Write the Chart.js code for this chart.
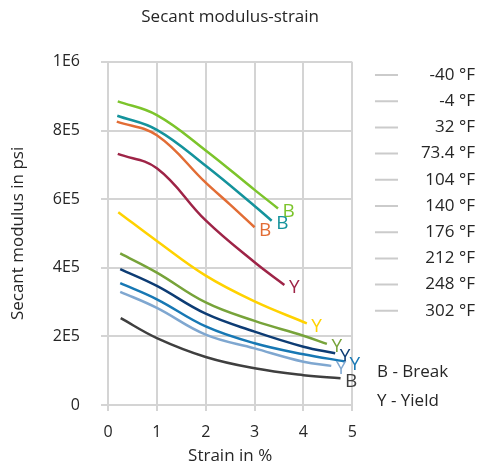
<!DOCTYPE html>
<html>
<head>
<meta charset="utf-8">
<script src="https://cdn.jsdelivr.net/npm/chart.js@4.4.1/dist/chart.umd.min.js"></script>
<style>
  html, body { margin: 0; padding: 0; background: #fff; }
</style>
</head>
<body>
<canvas id="chart" width="481" height="469"></canvas>
<script>
// Temperaturas (una curva por temperatura)
const temps = ['-40 °F', '-4 °F', '32 °F', '73.4 °F', '104 °F', '140 °F', '176 °F', '212 °F', '248 °F', '302 °F'];
// B = rotura, Y = fluencia, al final de cada curva
const endMarks = ['B', 'B', 'B', 'Y', 'Y', 'Y', 'Y', 'Y', 'Y', 'B'];

// Deformación en %
const strain = [
    [0.2, 1, 2, 3, 3.48],
    [0.19, 1, 2, 3, 3.35],
    [0.18, 1, 2, 2.5, 3.0],
    [0.2, 1, 2, 3, 3.61],
    [0.21, 1, 2, 3, 4.07],
    [0.25, 1, 2, 3, 4, 4.48],
    [0.25, 1, 2, 3, 4, 4.65],
    [0.25, 1, 2, 3, 4, 4.85],
    [0.25, 1, 2, 3, 4, 4.57],
    [0.26, 1, 2, 3, 4, 4.76]
];
// Módulo secante en psi
const modulus = [
    [885000, 845000, 742000, 627000, 573000],
    [843000, 802000, 697000, 580000, 537000],
    [826000, 786000, 648000, 584000, 518000],
    [732000, 690000, 538000, 416000, 350000],
    [562000, 478000, 377000, 302000, 238000],
    [442000, 386000, 299000, 245000, 202000, 178000],
    [396000, 347000, 266000, 214000, 170000, 151000],
    [355000, 308000, 229000, 180000, 148000, 127000],
    [330000, 283000, 205000, 165000, 126000, 114000],
    [253000, 195000, 140000, 107000, 87000, 78000]
];
const yTickLabels = ['0', '2E5', '4E5', '6E5', '8E5', '1E6'];

const colores = ['#7cc42b', '#14939c', '#e26d35', '#9e2447', '#ffd200', '#77a33a', '#0d3c74', '#1778b4', '#7fa7d0', '#3f3f3f'];
const gris = '#d4d4d4';
const texto = '#262626';

Chart.defaults.font.family = '"Open Sans", sans-serif';
Chart.defaults.color = texto;

const datasets = temps.map((t, i) => ({
    label: t,
    data: strain[i].map((x, j) => ({ x: x, y: modulus[i][j] })),
    borderColor: colores[i],
    borderWidth: 2.5,
    pointRadius: 0,
    fill: false,
    tension: 0.4,
    yAxisID: 'y'
}));

// letras B / Y al final de cada curva y la nota de abajo a la derecha
const etiquetasFinales = {
    id: 'etiquetasFinales',
    afterDatasetsDraw(chart) {
        const c = chart.ctx;
        c.save();
        c.font = '19px "Open Sans"';
        c.textAlign = 'left';
        c.textBaseline = 'middle';
        chart.data.datasets.forEach((ds, i) => {
            const pts = chart.getDatasetMeta(i).data;
            const p = pts[pts.length - 1];
            c.fillStyle = ds.borderColor;
            c.fillText(endMarks[i], p.x + 4.5, p.y + 3);
        });
        c.font = '17px "Open Sans"';
        c.fillStyle = texto;
        c.fillText('B - Break', 377, 372);
        c.fillText('Y - Yield', 377, 401);
        c.restore();
    }
};

new Chart(document.getElementById('chart'), {
    type: 'line',
    data: { datasets: datasets },
    options: {
        responsive: false,
        animation: false,
        layout: { padding: { right: 6 } },
        plugins: {
            title: {
                display: true,
                fullSize: false,
                text: 'Secant modulus-strain',
                color: texto,
                font: { size: 17, weight: 'normal' },
                padding: { top: 6.5, bottom: 35 }
            },
            legend: {
                position: 'right',
                align: 'start',
                maxWidth: 200,
                title: { display: true, text: ' ', font: { size: 10 }, padding: { top: 45.3, bottom: 0 } },
                labels: {
                    boxWidth: 23,
                    boxHeight: 2,
                    padding: 9.2,
                    textAlign: 'right',
                    color: texto,
                    font: { size: 17 },
                    // el espacio inicial solo ensancha la leyenda; el texto va alineado a la derecha
                    generateLabels: () => temps.map((t, i) => ({
                        text: (i === 3 ? ' ' : '') + t, fillStyle: '#cbcbcb', strokeStyle: '#cbcbcb',
                        lineWidth: 0, hidden: false, datasetIndex: i
                    }))
                }
            },
            tooltip: { enabled: false }
        },
        scales: {
            x: {
                type: 'linear', min: 0, max: 5,
                ticks: { stepSize: 1, padding: 11.4, color: texto, font: { size: 16 } },
                grid: { color: gris, lineWidth: 2, tickLength: 6 },
                border: { color: gris, width: 2 },
                title: { display: true, text: 'Strain in %', color: texto, font: { size: 17 }, padding: { top: -7.2, bottom: 2.8 } }
            },
            y: {
                type: 'linear', min: 0, max: 1000000,
                ticks: { stepSize: 200000, padding: 21, color: texto, font: { size: 16 },
                    callback: (v, i) => yTickLabels[i] },
                grid: { color: gris, lineWidth: 2, tickLength: 7 },
                border: { color: gris, width: 2 },
                title: { display: true, text: 'Secant modulus in psi', color: texto, font: { size: 17 }, padding: { top: 7.8, bottom: 4.1 } },
                afterFit: (s) => { s.width = 108; }
            },
            hueco: {
                type: 'linear', position: 'right',
                grid: { display: false }, ticks: { display: false }, border: { display: false },
                afterFit: (s) => { s.width = 13.5; }
            }
        }
    },
    plugins: [etiquetasFinales]
});
</script>
</body>
</html>
